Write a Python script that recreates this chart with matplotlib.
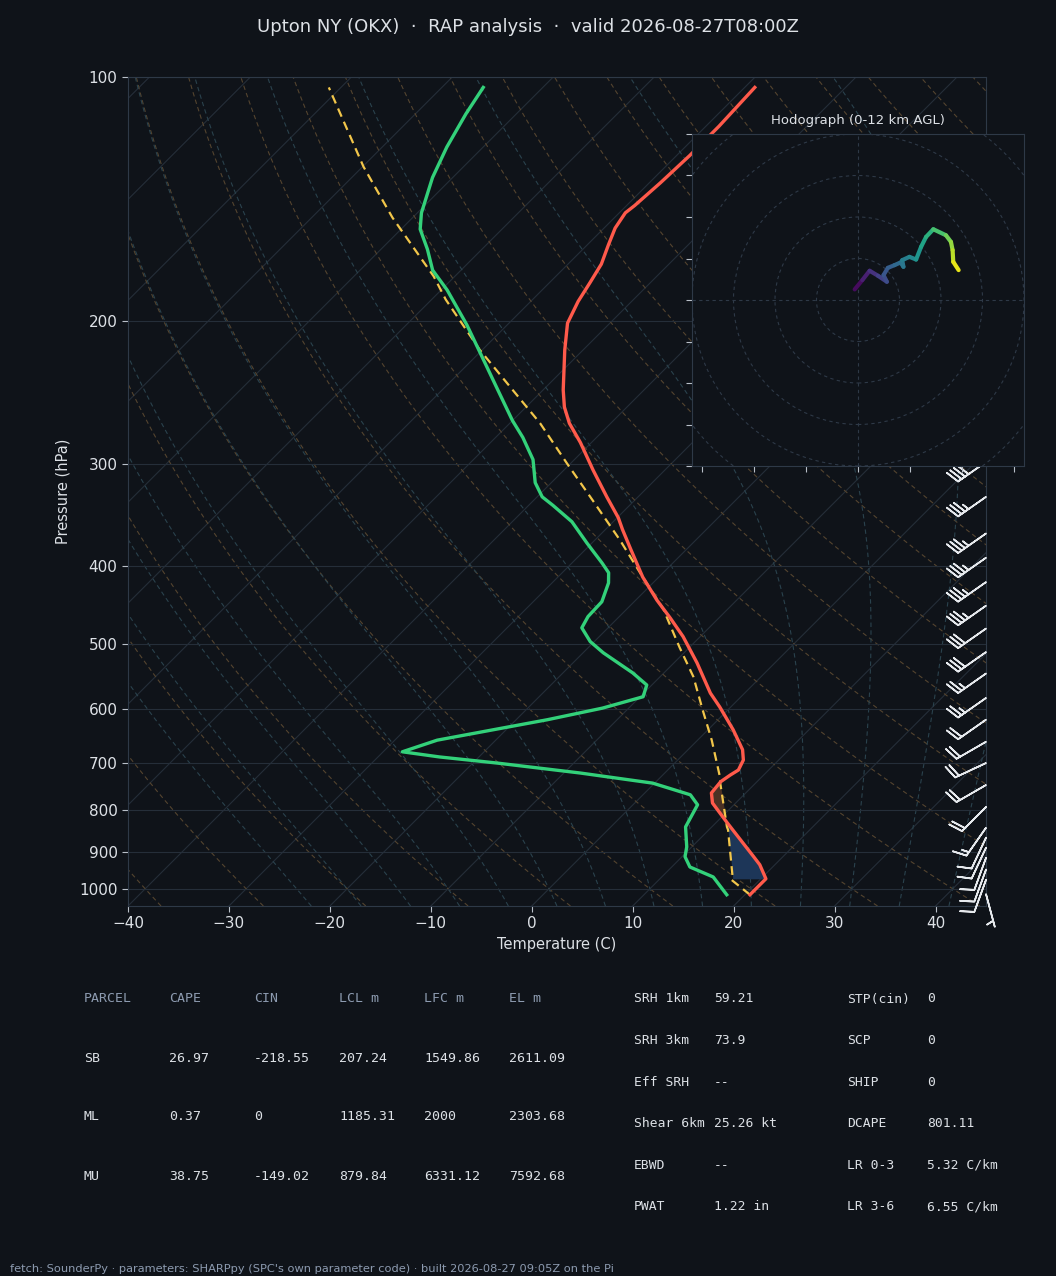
import numpy as np
import matplotlib
matplotlib.use('Agg')
import matplotlib.pyplot as plt
from matplotlib.transforms import Affine2D, blended_transform_factory
from matplotlib.collections import LineCollection
from matplotlib.patches import Circle
from matplotlib.ticker import NullLocator

# sounding, surface upward (hPa, C)
temp_p = [1017, 972, 934, 913, 870, 829, 784, 762, 738, 724, 714, 694, 674, 637, 597, 574,
          527, 489, 464, 441, 413, 382, 361, 349, 329, 305, 282, 267, 255, 243, 217, 201,
          189, 179, 170, 161, 153.5, 147, 144, 135, 125, 115, 103]
temp_t = [20.5, 20.5, 18.5, 17.1, 14.1, 11.1, 7.7, 6.6, 6.4, 6.7, 7.0, 6.5, 5.4, 2.5, -1.1, -3.4,
          -7.7, -11.7, -14.8, -17.9, -21.6, -25.5, -28.3, -29.9, -33.1, -37.1, -41.1, -44.1, -46.2, -48.0, -51.8, -54.2,
          -55.3, -56.0, -56.7, -57.9, -58.9, -59.4, -59.2, -58.9, -58.7, -58.7, -59.0]

dwpt_p = [1017, 967, 940, 913, 888, 839, 788, 766, 741, 720, 700, 688, 678, 656, 619, 599,
          580, 561, 542, 512, 496, 477, 462, 443, 420, 408, 397, 375, 353, 337, 329, 316,
          296, 278, 265, 241, 223, 202, 183, 173, 163, 154, 147, 133, 122, 111, 103]
dwpt_t = [18.2, 15.1, 11.8, 10.3, 9.5, 7.4, 6.4, 4.7, -0.2, -8.4, -17.6, -23.9, -28.1, -25.8, -16.9, -12.6,
          -9.7, -10.5, -13.1, -18.0, -20.4, -22.6, -23.1, -23.2, -24.4, -25.4, -27.0, -30.5, -34.1, -37.6, -39.5, -41.6,
          -44.1, -47.3, -50.0, -54.9, -58.9, -64.0, -69.4, -72.8, -75.4, -78.1, -79.6, -82.0, -83.6, -85.0, -85.9]

parcel_p = [1017, 975, 969, 846, 839, 741, 734, 656, 602, 548, 504, 466, 453, 413, 372,
            332, 299, 267, 243, 217, 188, 176, 149, 129, 103]
parcel_t = [20.5, 17.2, 17.1, 11.9, 11.5, 6.5, 6.2, 1.4, -2.5, -6.7, -11.0, -14.9, -16.3, -21.6, -27.5,
            -34.2, -40.4, -47.0, -53.0, -60.2, -68.6, -72.1, -82.0, -89.9, -101.2]

# wind barbs (hPa, direction from, kt)
barb_p = [1015, 975, 947, 916, 890, 865, 841, 793, 745, 700, 659, 619, 582, 543, 511,
          478, 448, 419, 391, 365, 329, 298]
barb_dir = [165, 200, 200, 200, 205, 205, 215, 225, 240, 245, 240, 235, 235, 235, 235,
            235, 235, 235, 235, 235, 235, 235]
barb_spd = [5, 10, 10, 10, 10, 10, 15, 20, 20, 20, 20, 20, 25, 25, 30,
            30, 35, 35, 35, 35, 35, 40]

# hodograph trace (km AGL, u kt, v kt)
hodo_h = [0.0, 0.7, 1.4, 2.0, 2.6, 3.0, 3.4, 3.8, 4.3, 4.6, 4.9, 5.3, 5.8, 6.6, 7.3,
          8.0, 9.0, 9.8, 10.4, 11.1, 12.0]
hodo_u = [-1.6, 2.1, 5.6, 9.6, 13.9, 12.3, 14.4, 17.6, 20.5, 21.9, 21.3, 24.8, 28.0, 30.4, 32.8,
          36.3, 42.4, 44.8, 45.6, 45.9, 48.5]
hodo_v = [5.1, 9.6, 14.1, 11.7, 8.8, 12.0, 15.5, 16.8, 18.1, 16.0, 19.2, 20.8, 19.5, 25.6, 30.4,
          34.1, 31.2, 28.0, 24.0, 18.4, 14.4]

# parameter tables
tbl_head = ['PARCEL', 'CAPE', 'CIN', 'LCL m', 'LFC m', 'EL m']
tbl_rows = [['SB', '26.97', '-218.55', '207.24', '1549.86', '2611.09'],
            ['ML', '0.37', '0', '1185.31', '2000', '2303.68'],
            ['MU', '38.75', '-149.02', '879.84', '6331.12', '7592.68']]
par_names1 = ['SRH 1km', 'SRH 3km', 'Eff SRH', 'Shear 6km', 'EBWD', 'PWAT']
par_vals1 = ['59.21', '73.9', '--', '25.26 kt', '--', '1.22 in']
par_names2 = ['STP(cin)', 'SCP', 'SHIP', 'DCAPE', 'LR 0-3', 'LR 3-6']
par_vals2 = ['0', '0', '0', '801.11', '5.32 C/km', '6.55 C/km']

BG = '#0f1319'
SPINE = '#2e3947'
GRID = '#252e39'
TEXT = '#dde1e6'
MUTED = '#8d9bb0'

FW, FH = 1056, 1276
fig = plt.figure(figsize=(FW / 100, FH / 100), dpi=100, facecolor=BG)

L, B, W, H = 128 / FW, 1 - 906 / FH, 858 / FW, 829 / FH
ax = fig.add_axes([L, B, W, H], facecolor=BG)
ax.set_yscale('log')
ax.set_xlim(-40, 45)
ax.set_ylim(1050, 100)
ax.set_autoscale_on(False)

# skew isotherms to 45 degrees on screen
tilt = np.arctan((H * FH) / (W * FW))
skew = ax.transScale + ax.transLimits + Affine2D().skew(tilt, 0) + ax.transAxes

pp = np.geomspace(1050, 100, 80)

for t in range(-130, 50, 10):
    ax.plot([t, t], [1050, 100], transform=skew, color=GRID, lw=0.8, zorder=1)

for th in range(-40, 211, 10):
    tk = (th + 273.15) * (pp / 1000.0) ** 0.2857 - 273.15
    ax.plot(tk, pp, transform=skew, color='#54442f', lw=0.8, ls=(0, (4, 3)), zorder=1)

RD, CP, LV, EPS = 287.04, 1005.7, 2.501e6, 0.622


def moist_lapse(t, p):
    tc = t - 273.15
    es = 6.112 * np.exp(17.67 * tc / (tc + 243.5))
    rs = EPS * es / (p - es)
    return (RD * t + LV * rs) / p / (CP + LV * LV * rs * EPS / (RD * t * t))


def moist_curve(t0, pres):
    out = [t0 + 273.15]
    for i in range(1, len(pres)):
        dp = pres[i] - pres[i - 1]
        t = out[-1]
        k1 = moist_lapse(t, pres[i - 1])
        k2 = moist_lapse(t + k1 * dp, pres[i])
        out.append(t + 0.5 * (k1 + k2) * dp)
    return np.array(out) - 273.15


up = np.geomspace(1000, 100, 120)
down = np.geomspace(1000, 1050, 6)
for t0 in range(-25, 46, 5):
    tu = moist_curve(t0, up)
    td = moist_curve(t0, down)
    ax.plot(np.concatenate([td[::-1], tu[1:]]), np.concatenate([down[::-1], up[1:]]),
            transform=skew, color='#2a424d', lw=0.8, ls=(0, (4, 3)), zorder=1)

# CIN / CAPE shading
lev = np.unique(np.concatenate([temp_p, parcel_p]))[::-1]
lev = lev[(lev <= 972) & (lev >= 738)]
lp = np.log(lev)
t_env = np.interp(lp, np.log(temp_p[::-1]), temp_t[::-1])
t_par = np.interp(lp, np.log(parcel_p[::-1]), parcel_t[::-1])
low = lev >= 800
ax.fill_betweenx(lev[low], t_par[low], t_env[low], where=t_par[low] < t_env[low], interpolate=True,
                 transform=skew, color='#1d3658', lw=0, zorder=2)
ax.fill_betweenx(lev, t_par, t_env, where=t_par > t_env, interpolate=True,
                 transform=skew, color='#4b3124', lw=0, zorder=2)

ax.plot(parcel_t, parcel_p, transform=skew, color='#f2c64a', lw=1.6, ls=(0, (4, 2.5)), zorder=4)
ax.plot(temp_t, temp_p, transform=skew, color='#ff5a4b', lw=2.4, zorder=5)
ax.plot(dwpt_t, dwpt_p, transform=skew, color='#33d17a', lw=2.4, zorder=5)

# barbs at the right edge
bd = np.deg2rad(barb_dir)
bu = -np.array(barb_spd) * np.sin(bd)
bv = -np.array(barb_spd) * np.cos(bd)
btrans = blended_transform_factory(ax.transAxes, ax.transData)
ax.barbs(np.ones(len(barb_p)), barb_p, bu, bv, transform=btrans, length=7,
         color='#e6e9ed', lw=1.2, clip_on=False, zorder=6)

ax.set_yticks([100, 200, 300, 400, 500, 600, 700, 800, 900, 1000],
              labels=['100', '200', '300', '400', '500', '600', '700', '800', '900', '1000'])
ax.yaxis.set_minor_locator(NullLocator())
ax.set_xticks(range(-40, 41, 10))
ax.grid(axis='y', color=GRID, lw=0.8)
ax.tick_params(colors='#b9c0c9', labelcolor=TEXT, labelsize=11, length=4)
for s in ax.spines.values():
    s.set_color(SPINE)
ax.set_xlabel('Temperature (C)', color=TEXT, fontsize=10.5, labelpad=4)
ax.set_ylabel('Pressure (hPa)', color=TEXT, fontsize=10.5, labelpad=6)

# hodograph inset
hax = fig.add_axes([692 / FW, 1 - 466 / FH, 332 / FW, 332 / FH], facecolor=BG)
hax.set_xlim(-80, 80)
hax.set_ylim(-80, 80)
for r in range(20, 121, 20):
    hax.add_patch(Circle((0, 0), r, fill=False, ls=(0, (3, 3)), lw=0.8, ec=SPINE))
hax.axhline(0, color=SPINE, lw=0.8, ls=(0, (3, 3)))
hax.axvline(0, color=SPINE, lw=0.8, ls=(0, (3, 3)))
pts = np.column_stack([hodo_u, hodo_v])
segs = np.stack([pts[:-1], pts[1:]], axis=1)
lc = LineCollection(segs, cmap='viridis', norm=plt.Normalize(0, 12), lw=3, capstyle='round')
lc.set_array((np.array(hodo_h[:-1]) + np.array(hodo_h[1:])) / 2)
hax.add_collection(lc)
hax.set_xticks(np.arange(-75, 76, 25))
hax.set_yticks(np.arange(-80, 81, 20))
hax.tick_params(labelleft=False, labelbottom=False, colors='#b9c0c9', length=4)
for s in hax.spines.values():
    s.set_color(SPINE)
hax.set_title('Hodograph (0-12 km AGL)', color=TEXT, fontsize=9.5, pad=7)

# title and tables
fig.text(0.5, 1 - 27 / FH, 'Upton NY (OKX)  \u00b7  RAP analysis  \u00b7  valid 2026-08-27T08:00Z',
         ha='center', va='center', fontsize=13, color=TEXT)

col_x = [84, 169, 254, 339, 424, 509]
for j, h in enumerate(tbl_head):
    fig.text(col_x[j] / FW, 1 - 999 / FH, h, family='DejaVu Sans Mono', fontsize=9.5,
             color=MUTED, va='center')
for i, row in enumerate(tbl_rows):
    for j, v in enumerate(row):
        fig.text(col_x[j] / FW, 1 - (1058 + 59 * i) / FH, v, family='DejaVu Sans Mono',
                 fontsize=9.5, color=TEXT, va='center')

for i in range(len(par_names1)):
    y = 1 - (999 + 41.6 * i) / FH
    fig.text(634 / FW, y, par_names1[i], family='DejaVu Sans Mono', fontsize=9.4, color=TEXT, va='center')
    fig.text(714 / FW, y, par_vals1[i], family='DejaVu Sans Mono', fontsize=9.4, color=TEXT, va='center')
    fig.text(847 / FW, y, par_names2[i], family='DejaVu Sans Mono', fontsize=9.4, color=TEXT, va='center')
    fig.text(927 / FW, y, par_vals2[i], family='DejaVu Sans Mono', fontsize=9.4, color=TEXT, va='center')

fig.text(10 / FW, 1 - 1269 / FH,
         "fetch: SounderPy \u00b7 parameters: SHARPpy (SPC's own parameter code) \u00b7 built 2026-08-27 09:05Z on the Pi",
         fontsize=8.2, color=MUTED, va='center')

fig.savefig('out.png', dpi=100, facecolor=BG)
